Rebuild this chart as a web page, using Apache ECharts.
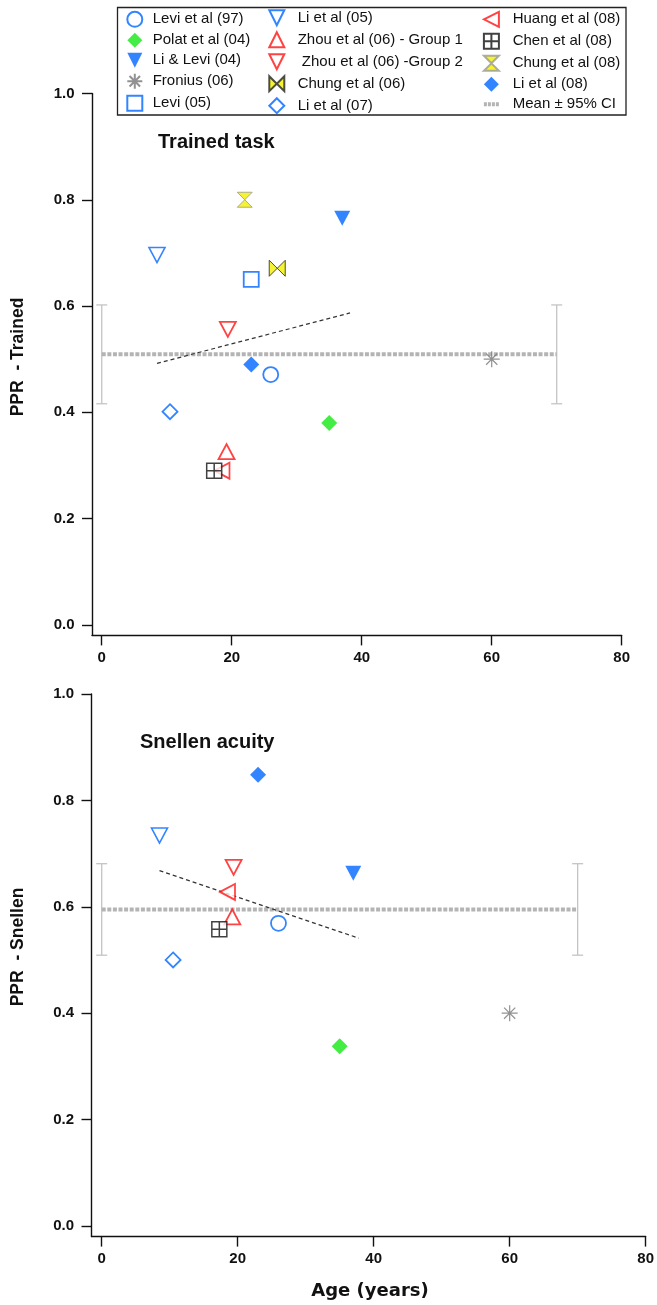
<!DOCTYPE html>
<html><head><meta charset="utf-8">
<script src="https://cdn.jsdelivr.net/npm/echarts@6/dist/echarts.min.js"></script>
<style>html,body{margin:0;padding:0;background:#fff}#c{width:657px;height:1305px}</style>
</head><body><div id="c"></div>
<script>
// ---------------- DATA ----------------
const studies = ['Levi et al (97)','Polat et al (04)','Li & Levi (04)','Fronius (06)','Levi (05)',
  'Li et al (05)','Zhou et al (06) - Group 1',' Zhou et al (06) -Group 2','Chung et al (06)','Li et al (07)',
  'Huang et al (08)','Chen et al (08)','Chung et al (08)','Li et al (08)'];
const ages        = [26,    35,    37,    60,    23,    8.5,   19.2,  19.4,  27,    10.5,  18.5,  17.3,  22,    23];
const pprTrained  = [0.471, 0.380, 0.765, 0.500, 0.650, 0.696, 0.326, 0.556, 0.671, 0.401, 0.290, 0.290, 0.800, 0.490];
const pprSnellen  = [0.569, 0.338, 0.663, 0.400, null,  0.734, 0.581, 0.674, null,  0.500, 0.628, 0.558, null,  0.848];
const meanName = 'Mean ± 95% CI';
const meanTrained = 0.509, ciTrained = 0.093;
const meanSnellen = 0.595, ciSnellen = 0.086;
const meanAges = [0, 70];
const fitTrained = [[8.5, 0.492], [38.2, 0.587]];
const fitSnellen = [[8.5, 0.668], [37.8, 0.541]];
const xTicks = [0, 20, 40, 60, 80];
const yTicks = [0, 0.2, 0.4, 0.6, 0.8, 1.0];
const panelTitles = ['Trained task', 'Snellen acuity'];
const yTitles = ['PPR  - Trained', 'PPR  - Snellen'];
const xTitle = 'Age (years)';

// ---------------- STYLES ----------------
const BLUE = '#0066ff', RED = '#ff1414', GREEN = '#14e814', GRAY = '#777777', YEL = '#f2f000';
const DOWN = 'path://M0,0L10,0L5,10Z';
const sty = {};
sty[studies[0]]  = {symbol:'circle', size:15, item:{color:'#fff', borderColor:BLUE, borderWidth:1.8}};
sty[studies[1]]  = {symbol:'diamond', size:16, item:{color:GREEN}};
sty[studies[2]]  = {symbol:DOWN, size:[16,15], item:{color:BLUE}};
sty[studies[3]]  = {symbol:'path://M5,0L5,10M0,5L10,5M1.5,1.5L8.5,8.5M8.5,1.5L1.5,8.5', size:16, item:{color:'rgba(0,0,0,0)', borderColor:GRAY, borderWidth:1.2}};
sty[studies[4]]  = {symbol:'rect', size:15, item:{color:'#fff', borderColor:BLUE, borderWidth:1.8}};
sty[studies[5]]  = {symbol:DOWN, size:[16,15], item:{color:'#fff', borderColor:BLUE, borderWidth:1.6}};
sty[studies[6]]  = {symbol:'path://M5,0L10,10L0,10Z', size:[16,15], item:{color:'#fff', borderColor:RED, borderWidth:1.8}};
sty[studies[7]]  = {symbol:DOWN, size:[16,15], item:{color:'#fff', borderColor:RED, borderWidth:1.8}};
sty[studies[8]]  = {symbol:'path://M0,0L5,5L0,10ZM10,0L5,5L10,10Z', size:16, item:{color:YEL, borderColor:'#222', borderWidth:1}};
sty[studies[9]]  = {symbol:'diamond', size:15, item:{color:'#fff', borderColor:BLUE, borderWidth:1.8}};
sty[studies[10]] = {symbol:'path://M0,5L10,0L10,10Z', size:[15,16], item:{color:'#fff', borderColor:RED, borderWidth:1.8}};
sty[studies[11]] = {symbol:'path://M0,0L10,0L10,10L0,10ZM5,0L5,10M0,5L10,5', size:15, item:{color:'#fff', borderColor:'#111', borderWidth:1.5}};
sty[studies[12]] = {symbol:'path://M0,0L10,0L5,5ZM0,10L10,10L5,5Z', size:15, item:{color:YEL, borderColor:'#999', borderWidth:1}};
sty[studies[13]] = {symbol:'diamond', size:16, item:{color:BLUE}};

const AXFONT = {fontFamily:'Liberation Sans, Arial, sans-serif', fontWeight:'bold', fontSize:15, color:'#111'};

const chart = echarts.init(document.getElementById('c'), null, {renderer:'canvas'});

const grids = [
  {left:92, right:35.3, top:93.5, bottom:669.6},
  {left:91.5, right:10.5, top:694, bottom:68.4}
];
const xAxes = [], yAxes = [], series = [];
const panels = [
  {vals:pprTrained, mean:meanTrained, ci:ciTrained, fit:fitTrained},
  {vals:pprSnellen, mean:meanSnellen, ci:ciSnellen, fit:fitSnellen}
];
panels.forEach((p, g) => {
  xAxes.push({gridIndex:g, type:'value', min:-1.5, max:80,
    axisLine:{show:true, onZero:false, lineStyle:{color:'#111', width:1.4}},
    axisTick:{show:true, inside:false, length:10, customValues:xTicks, lineStyle:{color:'#111', width:1.4}},
    axisLabel:Object.assign({customValues:xTicks, margin:15}, AXFONT),
    splitLine:{show:false}});
  yAxes.push({gridIndex:g, type:'value', min:-0.02, max:1.0,
    axisLine:{show:true, onZero:false, lineStyle:{color:'#111', width:1.4}},
    axisTick:{show:true, inside:false, length:10, customValues:yTicks, lineStyle:{color:'#111', width:1.4}},
    axisLabel:Object.assign({customValues:yTicks, margin:17.5, formatter:v => v.toFixed(1)}, AXFONT),
    splitLine:{show:false}});
  // mean line
  series.push({name:meanName, type:'line', xAxisIndex:g, yAxisIndex:g, symbol:'none', silent:true, z:2,
    data:meanAges.map(a => [a, p.mean]),
    itemStyle:{color:'#b4b4b4'},
    lineStyle:{color:'#b4b4b4', width:4, type:[4,1.6]}});
  // CI error bars
  series.push({name:'ci' + g, type:'custom', xAxisIndex:g, yAxisIndex:g, silent:true, z:2,
    data:meanAges.map(a => [a, p.mean - p.ci, p.mean + p.ci]),
    encode:{x:0, y:[1,2]},
    renderItem:(params, api) => {
      const top = api.coord([api.value(0), api.value(2)]);
      const bot = api.coord([api.value(0), api.value(1)]);
      const st = {stroke:'#c4c4c4', lineWidth:1.3};
      return {type:'group', children:[
        {type:'line', shape:{x1:top[0], y1:top[1], x2:bot[0], y2:bot[1]}, style:st},
        {type:'line', shape:{x1:top[0]-5.5, y1:top[1], x2:top[0]+5.5, y2:top[1]}, style:st},
        {type:'line', shape:{x1:bot[0]-5.5, y1:bot[1], x2:bot[0]+5.5, y2:bot[1]}, style:st}
      ]};
    }});
  // regression line
  series.push({name:'fit' + g, type:'line', xAxisIndex:g, yAxisIndex:g, symbol:'none', silent:true, z:3,
    data:p.fit, lineStyle:{color:'#333', width:1.2, type:[4,3]}});
  // studies
  studies.forEach((s, k) => {
    const v = p.vals[k];
    series.push({name:s, type:'scatter', xAxisIndex:g, yAxisIndex:g, z:5, silent:true,
      data: v == null ? [] : [[ages[k], v]],
      symbol:sty[s].symbol, symbolSize:sty[s].size, itemStyle:sty[s].item,
      emphasis:{disabled:true}});
  });
});

const legBase = {orient:'vertical', itemGap:5, itemWidth:15, itemHeight:15, padding:0, selectedMode:false};
const legText = pad => ({fontFamily:'Liberation Sans, Arial, sans-serif', fontSize:15, color:'#111', padding:[0,0,0,pad]});
const legends = [
  Object.assign({}, legBase, {left:126.3, top:10.8, textStyle:legText(5.4), data:studies.slice(0,5)}),
  Object.assign({}, legBase, {left:268.3, top:9.2, textStyle:legText(8.4), data:studies.slice(5,10)}),
  Object.assign({}, legBase, {left:482.9, top:10.8, textStyle:legText(8.8), data:studies.slice(10,14).concat([
    {name:meanName, icon:'path://M0,0h3v4h-3zM4,0h3v4h-3zM8,0h3v4h-3zM12,0h3v4h-3z'}])})
];

const TFONT = 'bold 20px "Liberation Sans", Arial, sans-serif';
const YTFONT = 'bold 17.5px "Liberation Sans", Arial, sans-serif';
const graphics = [
  {type:'rect', shape:{x:117.5, y:7.5, width:508.5, height:107.5}, style:{fill:'none', stroke:'#222', lineWidth:1.3}, z:0},
  {type:'text', x:158, y:142, style:{text:panelTitles[0], font:TFONT, fill:'#111', align:'left', verticalAlign:'middle'}},
  {type:'text', x:140, y:742, style:{text:panelTitles[1], font:TFONT, fill:'#111', align:'left', verticalAlign:'middle'}},
  {type:'text', x:18, y:357, rotation:Math.PI/2, style:{text:yTitles[0], font:YTFONT, fill:'#111', align:'center', verticalAlign:'middle'}},
  {type:'text', x:18, y:947, rotation:Math.PI/2, style:{text:yTitles[1], font:YTFONT, fill:'#111', align:'center', verticalAlign:'middle'}},
  {type:'text', x:370, y:1291, style:{text:xTitle, font:'bold 18px "DejaVu Sans", sans-serif', fill:'#111', align:'center', verticalAlign:'middle'}}
];

chart.setOption({
  animation:false,
  backgroundColor:'#fff',
  grid:grids, xAxis:xAxes, yAxis:yAxes, series:series,
  legend:legends, graphic:graphics
});
</script></body></html>
